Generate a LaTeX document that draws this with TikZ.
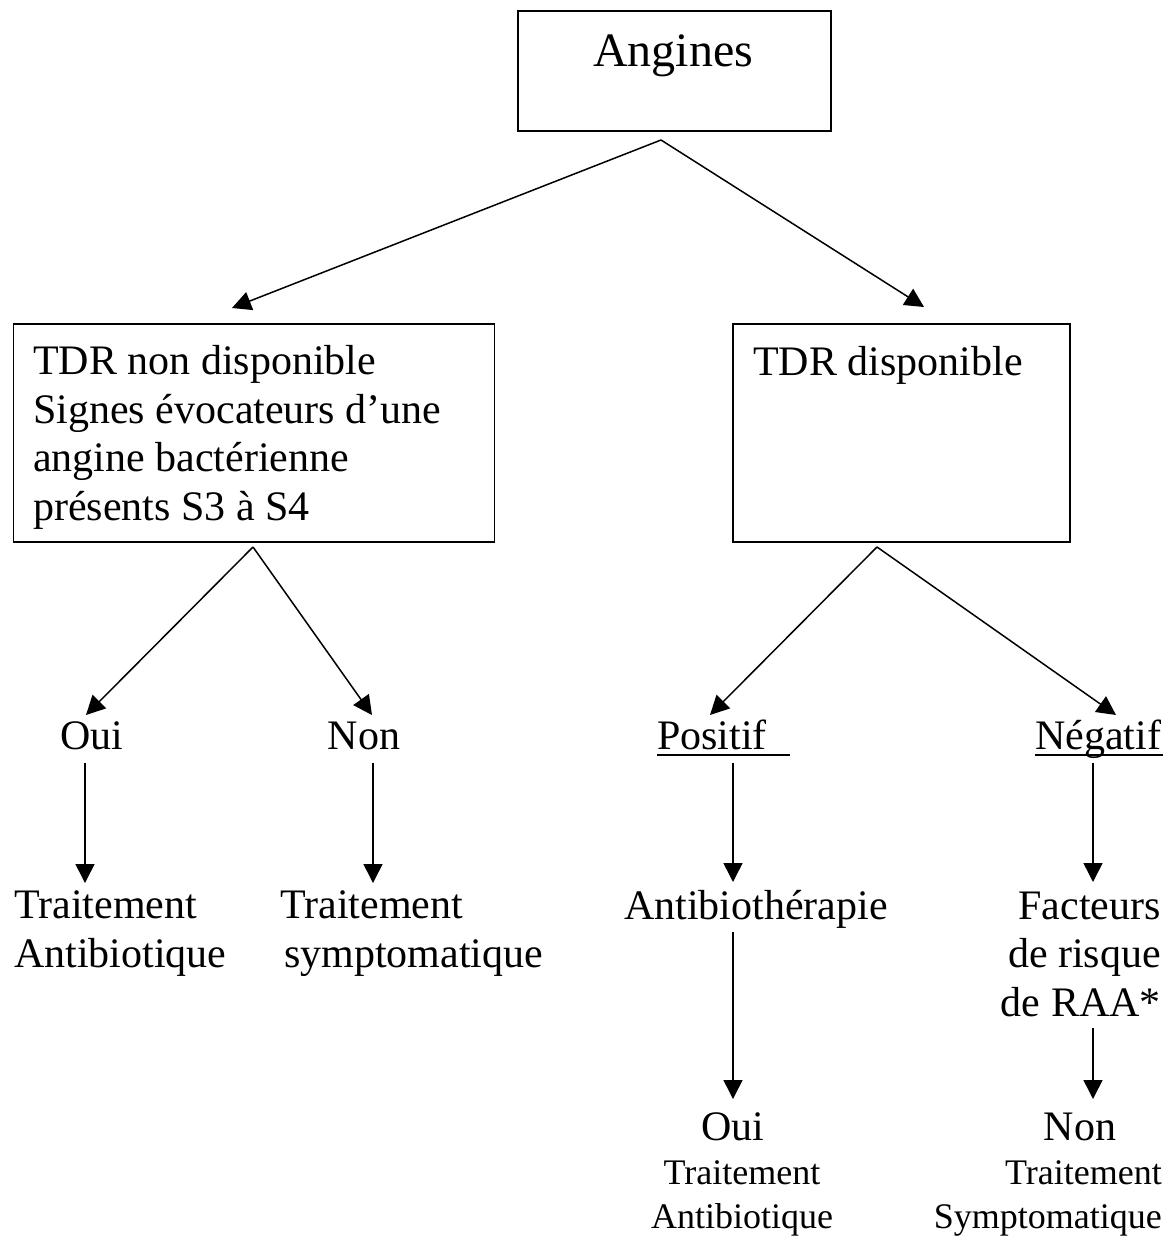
\documentclass[tikz,border=0pt]{standalone}
\usepackage{fontspec}
\setmainfont{Liberation Serif}
\usetikzlibrary{arrows.meta}
\begin{document}
\begin{tikzpicture}[x=1pt,y=-1pt,
  box/.style={draw, line width=1.5pt, inner sep=0pt, anchor=north west},
  bigtxt/.style={inner sep=0pt, font=\fontsize{42}{48.5}\selectfont},
  smalltxt/.style={inner sep=0pt, font=\fontsize{36}{43.5}\selectfont},
  titletxt/.style={inner sep=0pt, font=\fontsize{48}{55}\selectfont},
  arr/.style={line width=1.5pt, -{Triangle[length=19pt,width=19pt]}},
  uline/.style={line width=2pt}
  ]
\useasboundingbox (0,0) rectangle (1175,1237);

% boxes
\node[box, minimum width=313pt, minimum height=120pt] (ang) at (517,10) {};
\node[box, minimum width=481pt, minimum height=218pt] (left) at (12.5,323) {};
\node[box, minimum width=337pt, minimum height=218pt] (right) at (732,323) {};

% box texts (base anchor of a multi-line node = last line)
\node[titletxt, anchor=base] (angt) at (673,66) {Angines};
\node[bigtxt, anchor=base west, align=left] (leftt) at (33,520)
  {TDR non disponible\\Signes évocateurs d’une\\angine bactérienne\\présents S3 à S4};
\node[bigtxt, anchor=base west] (rightt) at (753,375) {TDR disponible};

% level 2 labels
\node[bigtxt, anchor=base] (oui) at (92,749) {Oui};
\node[bigtxt, anchor=base] (non) at (364,749) {Non};
\node[bigtxt, anchor=base west] (pos) at (657,749) {Positif};
\node[bigtxt, anchor=base west] (neg) at (1035,749) {Négatif};

% level 3
\node[bigtxt, anchor=base west, align=left] (ta) at (14,967) {Traitement\\Antibiotique};
\node[bigtxt, anchor=base west, align=left] (ts) at (280,967) {Traitement\\\hspace*{4pt}symptomatique};
\node[bigtxt, anchor=base] (abt) at (756,919) {Antibiothérapie};
\node[bigtxt, anchor=base east, align=right] (fr) at (1161,1016) {Facteurs\\de risque\\de RAA*};

% level 4
\node[bigtxt, anchor=base] (oui2) at (733,1140) {Oui};
\node[smalltxt, anchor=base, align=center] (ta2) at (742,1228) {Traitement\\Antibiotique};
\node[bigtxt, anchor=base] (non2) at (1080,1140) {Non};
\node[smalltxt, anchor=base east, align=right] (ts2) at (1162,1228) {Traitement\\Symptomatique};

% underlines
\draw[uline] ([yshift=-6pt]pos.base west) -- ++(133,0);
\draw[uline] ([yshift=-6pt]neg.base west) -- ++(128,0);

% connector points
\coordinate (aA) at (661,140);
\coordinate (aL) at (253,547);
\coordinate (aR) at (877,547);
\coordinate (tL) at (232,308);
\coordinate (tR) at (924,307);
\coordinate (tOui) at (86,715);
\coordinate (tNon) at (372,715);
\coordinate (tPos) at (710,715);
\coordinate (tNeg) at (1116,715);

\draw[arr] (aA) -- (tL);
\draw[arr] (aA) -- (tR);
\draw[arr] (aL) -- (tOui);
\draw[arr] (aL) -- (tNon);
\draw[arr] (aR) -- (tPos);
\draw[arr] (aR) -- (tNeg);

\coordinate (s1) at (85,763);   \coordinate (e1) at (85,883);
\coordinate (s2) at (373,763);  \coordinate (e2) at (373,883);
\coordinate (s3) at (733,763);  \coordinate (e3) at (733,882);
\coordinate (s4) at (1093,763); \coordinate (e4) at (1093,882);
\coordinate (s5) at (733,932);  \coordinate (e5) at (733,1099);
\coordinate (s6) at (1093,1028);\coordinate (e6) at (1093,1099);

\draw[arr] (s1) -- (e1);
\draw[arr] (s2) -- (e2);
\draw[arr] (s3) -- (e3);
\draw[arr] (s4) -- (e4);
\draw[arr] (s5) -- (e5);
\draw[arr] (s6) -- (e6);
\end{tikzpicture}
\end{document}
